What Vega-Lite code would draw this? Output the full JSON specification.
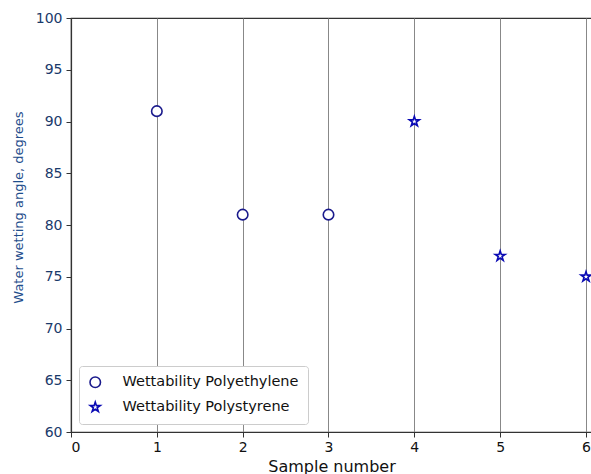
{
  "$schema": "https://vega.github.io/schema/vega-lite/v6.json",
  "width": 521,
  "height": 414,
  "autosize": {"type": "none"},
  "padding": {"left": 71, "top": 18, "right": 0, "bottom": 42},
  "background": "white",
  "config": {
    "font": "DejaVu Sans",
    "view": {"stroke": "#333", "strokeWidth": 1.2}
  },
  "data": {
    "values": [
      {"sample": 1, "angle": 91, "series": "Wettability Polyethylene"},
      {"sample": 2, "angle": 81, "series": "Wettability Polyethylene"},
      {"sample": 3, "angle": 81, "series": "Wettability Polyethylene"},
      {"sample": 4, "angle": 90, "series": "Wettability Polystyrene"},
      {"sample": 5, "angle": 77, "series": "Wettability Polystyrene"},
      {"sample": 6, "angle": 75, "series": "Wettability Polystyrene"}
    ]
  },
  "mark": {"type": "point", "filled": false, "fill": "white", "fillOpacity": 1, "strokeWidth": 1.6, "opacity": 1},
  "encoding": {
    "x": {
      "field": "sample", "type": "quantitative",
      "scale": {"domain": [0, 6.07], "nice": false, "zero": false},
      "axis": {
        "values": [0, 1, 2, 3, 4, 5, 6], "format": "d",
        "title": "Sample number", "titleFontSize": 16, "titleFontWeight": "normal", "titleColor": "#111",
        "titlePadding": 4,
        "labelFontSize": 14, "labelColor": "#111", "labelPadding": 3,
        "grid": true, "gridColor": "#888", "gridWidth": 1,
        "domainColor": "#333", "domainWidth": 1.2, "tickColor": "#333", "tickSize": 5
      }
    },
    "y": {
      "field": "angle", "type": "quantitative",
      "scale": {"domain": [60, 100], "nice": false, "zero": false},
      "axis": {
        "values": [60, 65, 70, 75, 80, 85, 90, 95, 100],
        "title": "Water wetting angle, degrees", "titleFontSize": 13, "titleFontWeight": "normal", "titleColor": "#1f4e8c",
        "titlePadding": 10, "titleY": 189,
        "labelFontSize": 14, "labelColor": "#1a3a6b", "labelPadding": 4,
        "grid": false,
        "domainColor": "#333", "domainWidth": 1.2, "tickColor": "#333", "tickSize": 5
      }
    },
    "shape": {
      "field": "series", "type": "nominal",
      "scale": {
        "domain": ["Wettability Polyethylene", "Wettability Polystyrene"],
        "range": ["circle", "M0,-1L0.2245,-0.309L0.951,-0.309L0.363,0.118L0.588,0.809L0,0.382L-0.588,0.809L-0.363,0.118L-0.951,-0.309L-0.2245,-0.309Z"]
      },
      "legend": {
        "title": null, "orient": "bottom-left", "offset": 8,
        "labelFontSize": 14.5, "labelColor": "#111", "labelLimit": 400,
        "symbolSize": 110, "symbolStrokeWidth": 1.6, "symbolFillColor": "white",
        "rowPadding": 7, "labelOffset": 20,
        "padding": 9, "strokeColor": "#ccc", "fillColor": "white", "cornerRadius": 3
      }
    },
    "stroke": {
      "field": "series", "type": "nominal",
      "scale": {
        "domain": ["Wettability Polyethylene", "Wettability Polystyrene"],
        "range": ["#1a1a8c", "#0a0ab4"]
      },
      "legend": null
    },
    "size": {"value": 110}
  }
}
